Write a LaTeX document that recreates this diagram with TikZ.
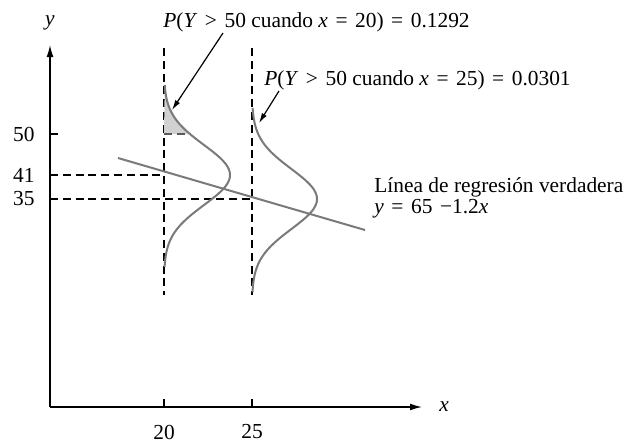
\documentclass[tikz,border=0pt]{standalone}
\usepackage{fontspec}
\setmainfont{Liberation Serif}
\usetikzlibrary{arrows.meta, positioning, calc}
\tikzset{
  axis/.style={line width=0.65pt, -{Latex[length=6pt, width=3.4pt]}},
  guide/.style={line width=0.6pt, dash pattern=on 4pt off 2.4pt},
  density/.style={line width=1pt, black!52},
  tail/.style={fill=black!18},
  pointer/.style={line width=0.6pt, -{Latex[length=5pt, width=2.8pt]}},
  lbl/.style={font=\fontsize{10.7}{13}\selectfont, inner sep=0pt},
  tickmark/.style={line width=0.6pt}
}
\newcommand{\rel}[1]{\hspace{1.1pt}#1\hspace{1.1pt}}

\begin{document}
\begin{tikzpicture}[x=0.5pt, y=-0.5pt]
    \useasboundingbox (0,0) rectangle (623,441);
    % frame points
    \coordinate (O) at (50,407);
    \coordinate (ytop) at (50,45);
    \coordinate (xend) at (422,407);
    \coordinate (m20) at (164,175);
    \coordinate (m25) at (252,199);
    \coordinate (c50) at (164,134);
    \coordinate (e50) at (190,134);
    \coordinate (rA) at (118,158);
    \coordinate (rB) at (365,230);
    % guides
    \draw[guide] (164,48) -- (164,295);
    \draw[guide] (252,48) -- (252,295);
    \draw[guide] (O |- m20) -- (m20);
    \draw[guide] (O |- m25) -- (m25);
    % tail area above 50
    \fill[tail] plot[domain=-90:-41, samples=30, variable=\t]
      ({164+66*exp(-(\t)*(\t)/1800)}, {175+\t}) -- (c50) -- cycle;
    \draw[guide, black!65] (c50) -- (e50);
    % densities
    \draw[density] plot[domain=-90:92, samples=90, variable=\t]
      ({164+66*exp(-(\t)*(\t)/1800)}, {175+\t});
    \draw[density] plot[domain=-91:93, samples=90, variable=\t]
      ({252+65*exp(-(\t)*(\t)/1800)}, {199+\t});
    \draw[density] (rA) -- (rB);
    % axes
    \draw[axis] (O) -- (ytop);
    \draw[axis] (O) -- (xend);
    \draw[tickmark] (c50 -| O) -- ++(8,0);
    \draw[tickmark] (164,407) -- (164,399);
    \draw[tickmark] (252,407) -- (252,399);
    \node[lbl] (ylab) at (50,23) {\textit{y}};
    \node[lbl] (xlab) at (444,407) {\textit{x}};
    \node[lbl, anchor=east] (l50) at (35,134) {50};
    \node[lbl, anchor=east] (l41) at (35,175) {41};
    \node[lbl, anchor=east] (l35) at (35,199) {35};
    \node[lbl] (l20) at (164,432) {20};
    \node[lbl] (l25) at (252,432) {25};
    % probability labels
    \node[lbl, anchor=base west] (p20) at (163,27)
      {\textit{P}(\textit{Y} \rel{>} 50 cuando \textit{x} \rel{=} 20) \rel{=} 0.1292};
    \node[lbl, anchor=base west] (p25) at (264,85)
      {\textit{P}(\textit{Y} \rel{>} 50 cuando \textit{x} \rel{=} 25) \rel{=} 0.0301};
    \coordinate (a20) at (223,33);
    \coordinate (h20) at (172,110);
    \coordinate (a25) at (279,91);
    \coordinate (h25) at (259,123);
    \draw[pointer] (a20) -- (h20);
    \draw[pointer] (a25) -- (h25);
    % regression label
    \node[lbl, anchor=base west] (reg) at (374,192) {Línea de regresión verdadera};
    \node[lbl, anchor=base west] (eq) at (374,213) {\textit{y} \rel{=} 65 \hspace{1.1pt}−1.2\textit{x}};
\end{tikzpicture}
\end{document}
